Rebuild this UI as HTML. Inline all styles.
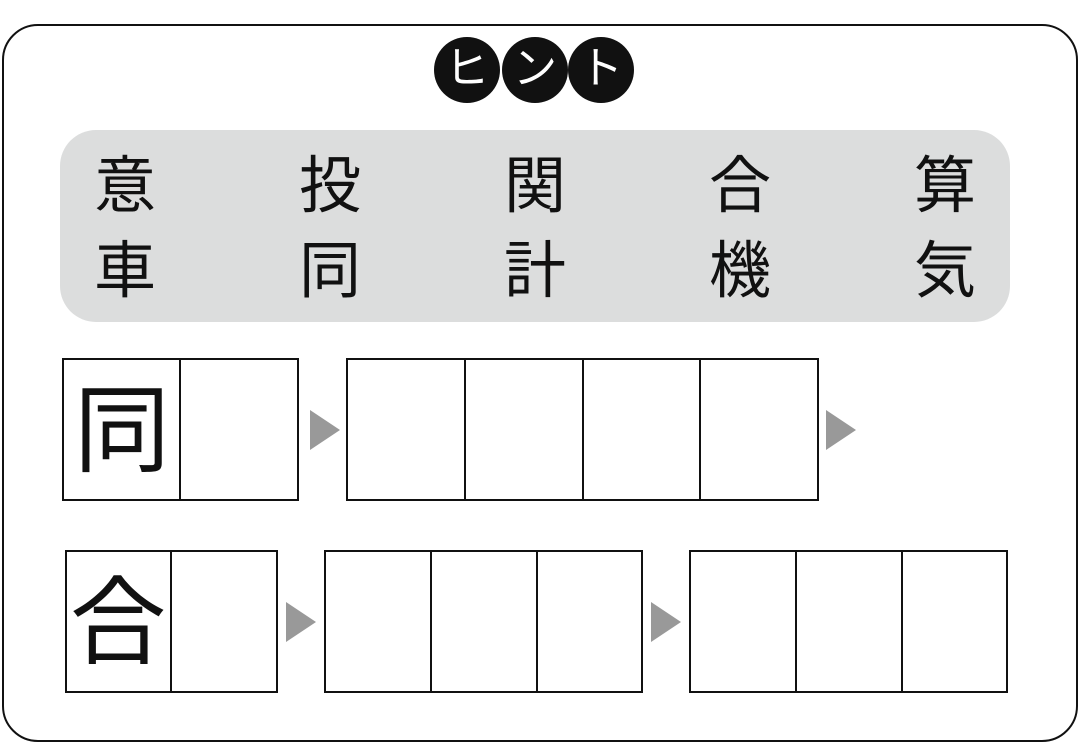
<!DOCTYPE html>
<html><head><meta charset="utf-8"><style>
body{margin:0;width:1080px;height:744px;background:#fff;position:relative;overflow:hidden;font-family:"Liberation Sans","Noto Sans CJK JP",sans-serif}
.a{position:absolute;box-sizing:border-box}
.outer{left:2px;top:24px;width:1076px;height:718px;border:2px solid #111;border-radius:36px}
.c{width:66px;height:66px;border-radius:50%;background:#111;color:#fff;font-size:44px;line-height:64px;text-align:center;font-weight:normal}
.gray{left:60px;top:130px;width:950px;height:192px;background:#dcdddd;border-radius:36px}
.k{font-size:62px;line-height:62px;width:80px;text-align:center;color:#111}
.b{border:2px solid #111;background:#fff}
.t{width:0;height:0;border-top:20px solid transparent;border-bottom:20px solid transparent;border-left:30px solid #999}
.big{font-size:96px;line-height:96px;color:#111}
</style></head><body>
<div class="a outer"></div>
<div class="a c" style="left:434px;top:37px">ヒ</div>
<div class="a c" style="left:502px;top:37px">ン</div>
<div class="a c" style="left:568px;top:37px">ト</div>
<div class="a gray"></div>
<div class="a k" style="left:85px;top:156px">意</div>
<div class="a k" style="left:290px;top:156px">投</div>
<div class="a k" style="left:495px;top:156px">関</div>
<div class="a k" style="left:700px;top:156px">合</div>
<div class="a k" style="left:905px;top:156px">算</div>
<div class="a k" style="left:85px;top:241px">車</div>
<div class="a k" style="left:290px;top:241px">同</div>
<div class="a k" style="left:495px;top:241px">計</div>
<div class="a k" style="left:700px;top:241px">機</div>
<div class="a k" style="left:905px;top:241px">気</div>

<div class="a b" style="left:62px;top:358px;width:120px;height:143px"></div>
<div class="a b" style="left:179px;top:358px;width:120px;height:143px"></div>
<div class="a big" style="left:74px;top:384px">同</div>
<div class="a t" style="left:310px;top:410px"></div>
<div class="a b" style="left:346px;top:358px;width:121px;height:143px"></div>
<div class="a b" style="left:464px;top:358px;width:121px;height:143px"></div>
<div class="a b" style="left:582px;top:358px;width:120px;height:143px"></div>
<div class="a b" style="left:699px;top:358px;width:120px;height:143px"></div>
<div class="a t" style="left:826px;top:410px"></div>

<div class="a b" style="left:65px;top:550px;width:108px;height:143px"></div>
<div class="a b" style="left:170px;top:550px;width:108px;height:143px"></div>
<div class="a big" style="left:70px;top:576px">合</div>
<div class="a t" style="left:286px;top:602px"></div>
<div class="a b" style="left:324px;top:550px;width:109px;height:143px"></div>
<div class="a b" style="left:430px;top:550px;width:109px;height:143px"></div>
<div class="a b" style="left:536px;top:550px;width:107px;height:143px"></div>
<div class="a t" style="left:651px;top:602px"></div>
<div class="a b" style="left:689px;top:550px;width:109px;height:143px"></div>
<div class="a b" style="left:795px;top:550px;width:109px;height:143px"></div>
<div class="a b" style="left:901px;top:550px;width:107px;height:143px"></div>
</body></html>
